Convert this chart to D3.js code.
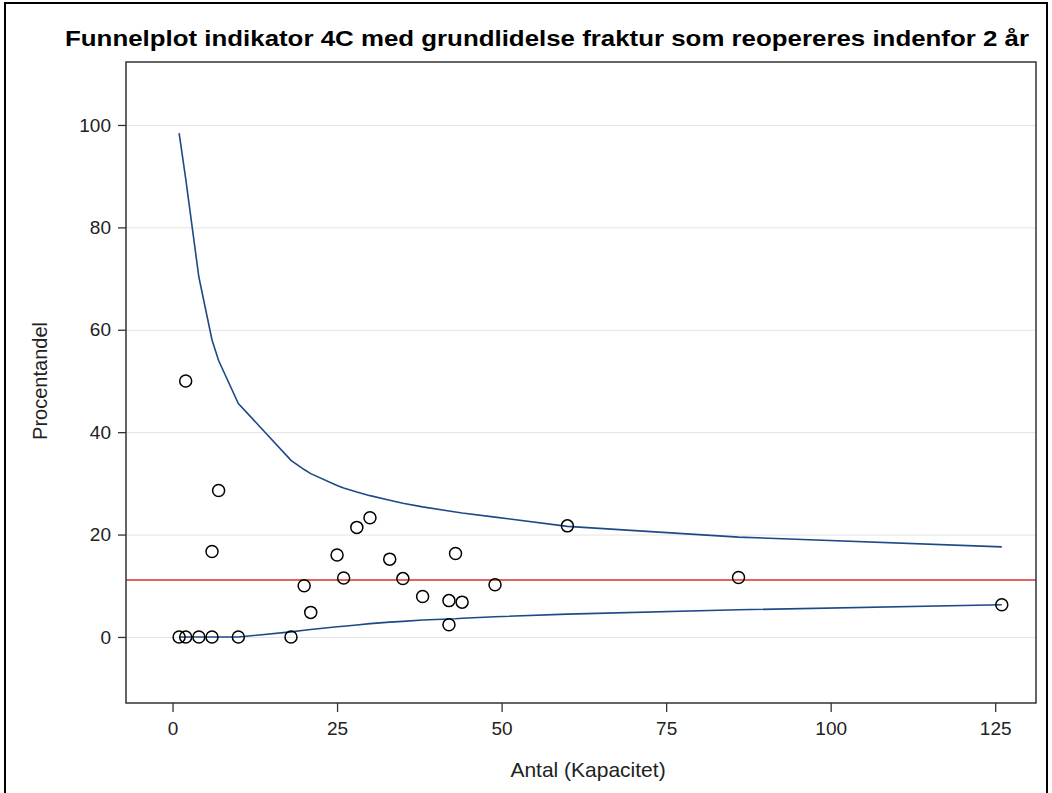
<!DOCTYPE html>
<html>
<head>
<meta charset="utf-8">
<script src="https://cdn.jsdelivr.net/npm/d3@7"></script>
<style>
  body { margin: 0; background: #fff; }
  svg { font-family: "Liberation Sans", Arial, sans-serif; }
  .grid line { stroke: #e3e3e3; }
  .grid path { display: none; }
</style>
</head>
<body>
<svg width="1052" height="793"></svg>
<script>
// observed departments: count (n) and percent reoperated
var antal = [1, 2, 2, 4, 6, 6, 7, 10, 18, 20, 21, 25, 26, 28, 30, 33, 35, 38, 42, 42, 43, 44, 49, 60, 86, 126];
var procent = [0, 0, 50, 0, 0, 16.7, 28.6, 0, 0, 10, 4.8, 16, 11.5, 21.4, 23.3, 15.2, 11.4, 7.9, 7.1, 2.4, 16.3, 6.8, 10.2, 21.7, 11.6, 6.3];

// funnel limits, evaluated at each distinct n
var limitN = [1, 2, 4, 6, 7, 10, 18, 20, 21, 25, 26, 28, 30, 33, 35, 38, 42, 43, 44, 49, 60, 86, 126];
var upper = [98.4, 89.5, 70.3, 58.0, 54.0, 45.6, 34.5, 32.7, 31.9, 29.6, 29.1, 28.3, 27.6, 26.7, 26.1, 25.4, 24.6, 24.4, 24.2, 23.4, 21.6, 19.5, 17.6];
var lower = [0, 0, 0, 0, 0, 0, 1.0, 1.3, 1.45, 2.0, 2.1, 2.35, 2.6, 2.9, 3.05, 3.3, 3.5, 3.55, 3.65, 3.95, 4.45, 5.3, 6.3];
var gennemsnit = 11.1;

var xTicks = [0, 25, 50, 75, 100, 125];
var yTicks = [0, 20, 40, 60, 80, 100];

var svg = d3.select("svg");
var margin = {left: 126, top: 62, right: 16, bottom: 90};
var width = 1052 - margin.left - margin.right;
var height = 793 - margin.top - margin.bottom;

// outer frame
svg.append("rect")
  .attr("x", 5).attr("y", 3)
  .attr("width", 1042).attr("height", 800)
  .attr("fill", "none")
  .attr("stroke", "#000")
  .attr("stroke-width", 2);

svg.append("text")
  .attr("x", 547)
  .attr("y", 46)
  .attr("text-anchor", "middle")
  .attr("font-size", "22px")
  .attr("font-weight", "bold")
  .attr("textLength", 964)
  .attr("lengthAdjust", "spacingAndGlyphs")
  .text("Funnelplot indikator 4C med grundlidelse fraktur som reopereres indenfor 2 år");

var x = d3.scaleLinear().domain([-7.07, 131.2]).range([0, width]);
var y = d3.scaleLinear().domain([-12.9, 112.3]).range([height, 0]);

var g = svg.append("g")
  .attr("transform", "translate(" + margin.left + "," + margin.top + ")");

// horizontal grid
g.append("g")
  .attr("class", "grid")
  .call(d3.axisLeft(y).tickValues(yTicks).tickSize(-width).tickFormat(""));

// reference mean
g.append("line")
  .attr("x1", 0).attr("x2", width)
  .attr("y1", y(gennemsnit)).attr("y2", y(gennemsnit))
  .attr("stroke", "#d9302b")
  .attr("stroke-width", 1.5);

var line = d3.line()
  .x(function(d) { return x(d[0]); })
  .y(function(d) { return y(d[1]); });

[upper, lower].forEach(function(lim) {
  g.append("path")
    .datum(limitN.map(function(v, i) { return [v, lim[i]]; }))
    .attr("fill", "none")
    .attr("stroke", "#1d4a86")
    .attr("stroke-width", 1.6)
    .attr("d", line);
});

g.selectAll(".pt")
  .data(antal)
  .enter().append("circle")
  .attr("class", "pt")
  .attr("cx", function(d) { return x(d); })
  .attr("cy", function(d, i) { return y(procent[i]); })
  .attr("r", 6)
  .attr("fill", "none")
  .attr("stroke", "#000")
  .attr("stroke-width", 1.5);

// plot frame
g.append("rect")
  .attr("width", width).attr("height", height)
  .attr("fill", "none")
  .attr("stroke", "#333")
  .attr("stroke-width", 1.5);

var xAxis = g.append("g")
  .attr("transform", "translate(0," + height + ")")
  .call(d3.axisBottom(x).tickValues(xTicks).tickSize(9).tickPadding(10));
var yAxis = g.append("g")
  .call(d3.axisLeft(y).tickValues(yTicks).tickSize(8).tickPadding(7));

[xAxis, yAxis].forEach(function(a) {
  a.select(".domain").remove();
  a.selectAll("line").attr("stroke", "#333").attr("stroke-width", 1.3);
  a.selectAll("text")
    .attr("font-size", "19px")
    .attr("font-family", "'Liberation Sans', Arial, sans-serif")
    .attr("fill", "#222");
});

svg.append("text")
  .attr("x", 588)
  .attr("y", 777)
  .attr("text-anchor", "middle")
  .attr("font-size", "21px")
  .attr("fill", "#222")
  .text("Antal (Kapacitet)");

svg.append("text")
  .attr("transform", "translate(47," + (margin.top + y(50)) + ") rotate(-90)")
  .attr("text-anchor", "middle")
  .attr("font-size", "20px")
  .attr("fill", "#222")
  .text("Procentandel");
</script>
</body>
</html>
